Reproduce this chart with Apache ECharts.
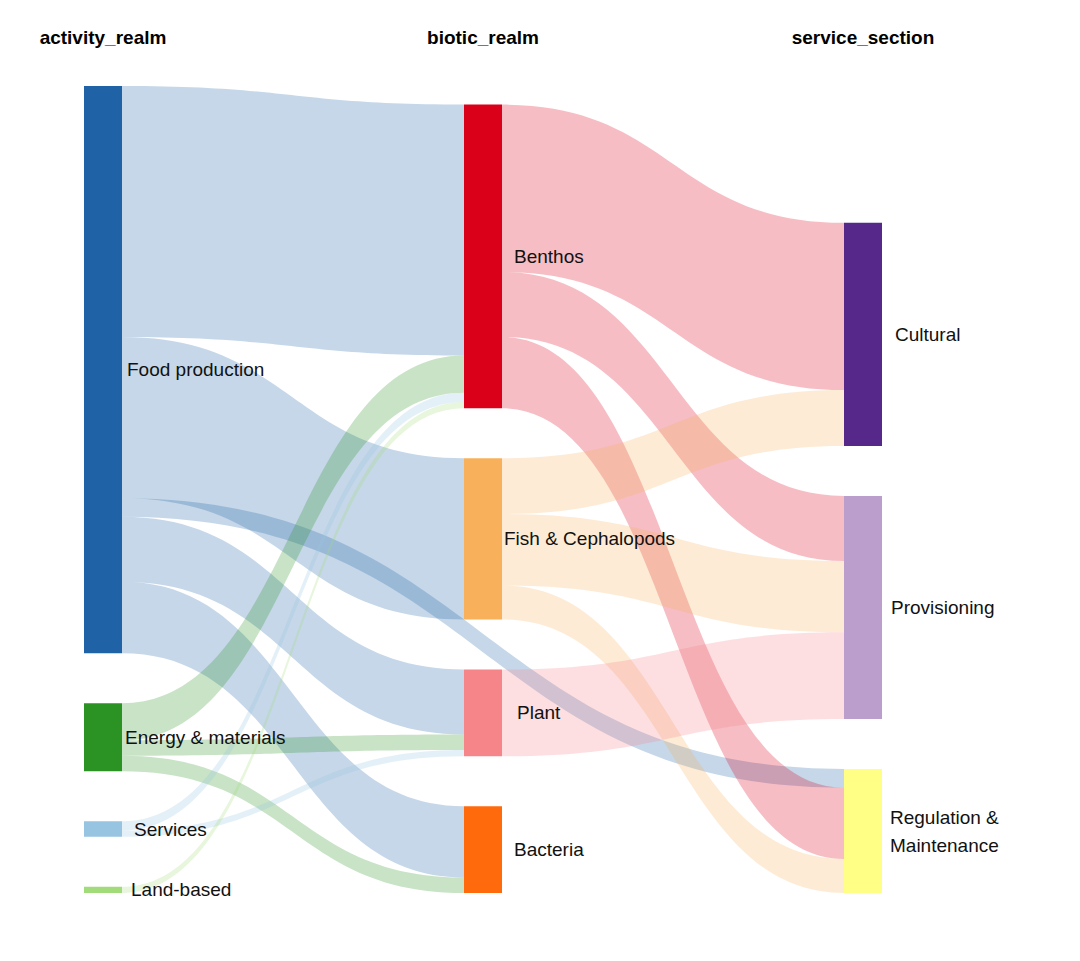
<!DOCTYPE html>
<html>
<head>
<meta charset="utf-8">
<script src="https://cdn.jsdelivr.net/npm/echarts@6/dist/echarts.min.js"></script>
<style>
  html, body { margin: 0; padding: 0; background: #ffffff; }
  #main { width: 1080px; height: 961px; }
</style>
</head>
<body>
<div id="main"></div>
<script>
// ---- data ----
const columnTitles = ['activity_realm', 'biotic_realm', 'service_section'];
const activityNodes = ['Food production', 'Energy & materials', 'Services', 'Land-based'];
const bioticNodes = ['Benthos', 'Fish & Cephalopods', 'Plant', 'Bacteria'];
const serviceNodes = ['Cultural', 'Provisioning', 'Regulation & Maintenance'];

const linkSources = [
  'Food production', 'Food production', 'Food production', 'Food production', 'Food production',
  'Energy & materials', 'Energy & materials', 'Energy & materials',
  'Services', 'Services',
  'Land-based',
  'Benthos', 'Benthos', 'Benthos',
  'Fish & Cephalopods', 'Fish & Cephalopods', 'Fish & Cephalopods',
  'Plant'
];
const linkTargets = [
  'Benthos', 'Fish & Cephalopods', 'Plant', 'Bacteria', 'Regulation & Maintenance',
  'Benthos', 'Plant', 'Bacteria',
  'Benthos', 'Plant',
  'Benthos',
  'Cultural', 'Provisioning', 'Regulation & Maintenance',
  'Cultural', 'Provisioning', 'Regulation & Maintenance',
  'Provisioning'
];
const linkValues = [
  81, 52, 21, 23, 6,
  12, 5, 5,
  3, 2,
  2,
  54, 21, 23,
  18, 23, 11,
  28
];

// ---- styles ----
const nodeColors = {
  'Food production': '#1F63A6',
  'Energy & materials': '#2B9324',
  'Services': '#97C4E0',
  'Land-based': '#A2DB79',
  'Benthos': '#DB001A',
  'Fish & Cephalopods': '#F9B05B',
  'Plant': '#F6858A',
  'Bacteria': '#FF6A0D',
  'Cultural': '#55288A',
  'Provisioning': '#BB9ECB',
  'Regulation & Maintenance': '#FFFF85'
};
const labelDistance = {
  'Food production': 5, 'Energy & materials': 3, 'Services': 12, 'Land-based': 9,
  'Benthos': 12, 'Fish & Cephalopods': 2, 'Plant': 15, 'Bacteria': 12,
  'Cultural': 13, 'Provisioning': 9, 'Regulation & Maintenance': 8
};
const FONT = '"Liberation Sans", Arial, Helvetica, sans-serif';

const allNodes = activityNodes.concat(bioticNodes, serviceNodes);
const nodes = allNodes.map(name => ({
  name: name,
  itemStyle: { color: nodeColors[name] },
  label: { distance: labelDistance[name] }
}));
const links = linkSources.map((s, i) => ({ source: s, target: linkTargets[i], value: linkValues[i] }));

const chart = echarts.init(document.getElementById('main'), null, { renderer: 'svg' });
const option = {
  backgroundColor: '#ffffff',
  animation: false,
  series: [{
    type: 'sankey',
    left: 84,
    right: 198,
    top: 86,
    bottom: 68,
    nodeWidth: 38,
    nodeGap: 50,
    layoutIterations: 0,
    draggable: false,
    nodeAlign: 'left',
    data: nodes,
    links: links,
    itemStyle: { borderWidth: 0 },
    lineStyle: { color: 'source', opacity: 0.26, curveness: 0.5 },
    label: {
      show: true,
      position: 'right',
      color: '#111111',
      fontSize: 19,
      fontFamily: FONT,
      lineHeight: 28,
      formatter: p => p.name.replace('Regulation & ', 'Regulation &\n')
    },
    emphasis: { disabled: true }
  }]
};
chart.setOption(option);

// bottom-align each column using the library's own computed layout, and place column titles
try {
  const sm = chart.getModel().getSeriesByIndex(0);
  const graph = sm.getGraph();
  const info = sm.layoutInfo;
  const H = info.height;
  const cols = new Map();
  graph.eachNode(n => {
    const l = n.getLayout();
    const k = Math.round(l.x);
    if (!cols.has(k)) cols.set(k, []);
    cols.get(k).push(n);
  });
  const colKeys = Array.from(cols.keys()).sort((a, b) => a - b);
  const graphics = [];
  colKeys.forEach((k, ci) => {
    const ns = cols.get(k);
    const bottom = Math.max.apply(null, ns.map(n => n.getLayout().y + n.getLayout().dy));
    const shift = H - bottom;
    ns.forEach(n => { nodes[n.dataIndex].localY = (n.getLayout().y + shift) / H; });
    const l0 = ns[0].getLayout();
    graphics.push({
      type: 'text',
      x: info.x + l0.x + l0.dx / 2,
      y: 37,
      style: {
        text: columnTitles[ci],
        align: 'center',
        verticalAlign: 'middle',
        font: 'bold 19px ' + FONT,
        fill: '#000000'
      }
    });
  });
  chart.setOption({ graphic: graphics, series: [{ data: nodes }] });
} catch (e) {
  console.error(e);
}
</script>
</body>
</html>
